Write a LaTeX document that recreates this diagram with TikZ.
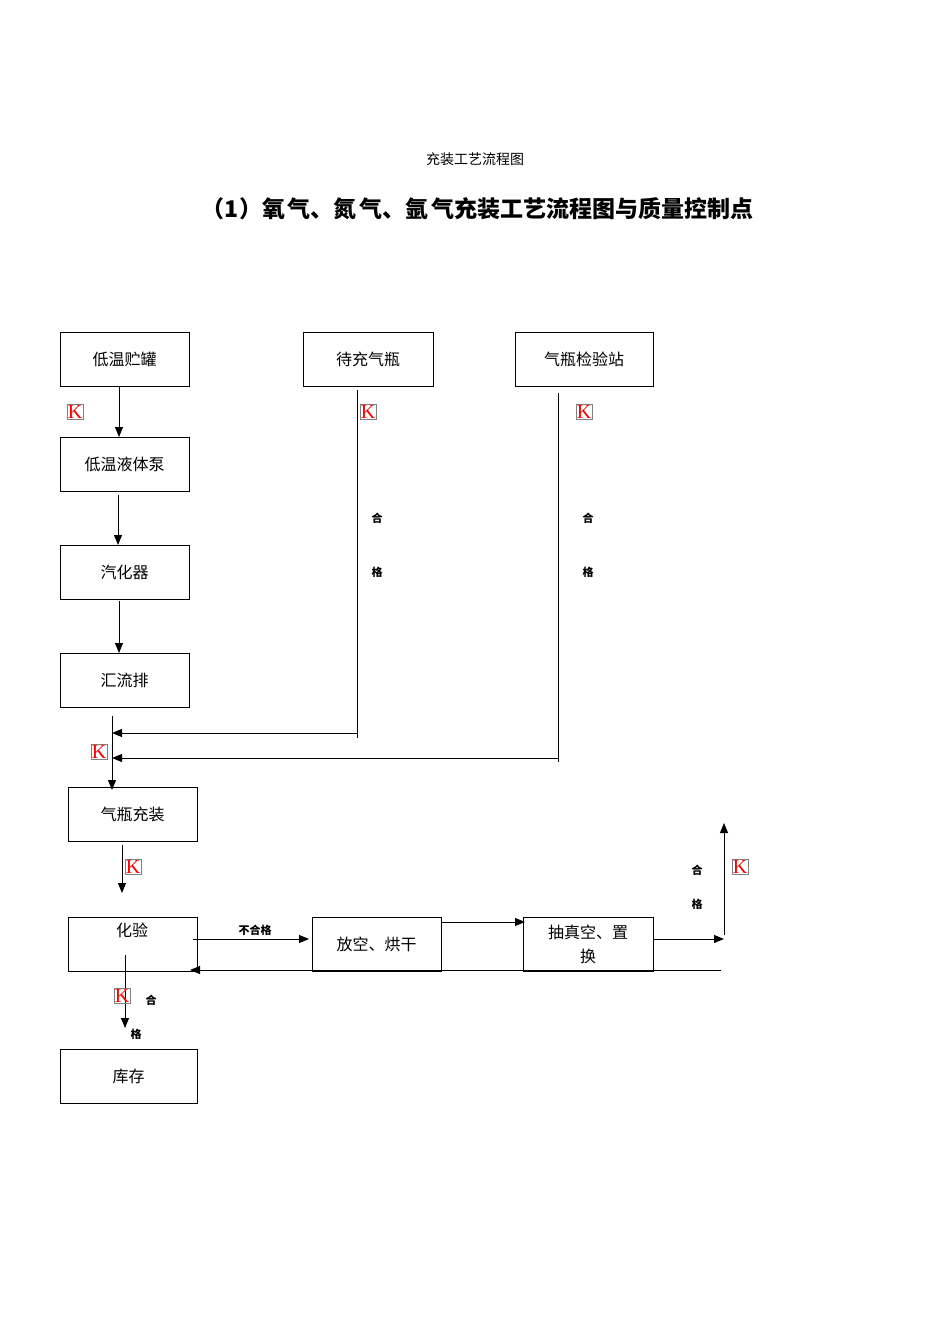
\documentclass[tikz,border=0pt]{standalone}
\usepackage{fontspec}
\setmainfont{Noto Sans CJK SC}
\newfontfamily\kfont{Liberation Serif}
\usetikzlibrary{arrows.meta}
\begin{document}
\begin{tikzpicture}[x=1pt,y=-1pt,
  arr/.style={line width=0.9pt,-{Triangle[length=10pt,width=8pt]}},
  ln/.style={line width=0.9pt},
  kmark/.style={draw=gray,line width=0.6pt,inner sep=0.8pt,text=red,font=\kfont\fontsize{20}{20}\selectfont},
  lab/.style={font=\fontsize{11}{12}\selectfont\bfseries,inner sep=0pt}]
\useasboundingbox (0,0) rectangle (950,1344);
\node[font=\fontsize{14}{16}\selectfont] (t1) at (475,159) {充装工艺流程图};
\node[font=\fontsize{23}{24}\selectfont\bfseries,inner sep=0pt] (t2) at (478,209) {（1）氧\hspace{3pt}气、氮\hspace{3pt}气、氩\hspace{3pt}气充装工艺流程图与质量控制点};
\def\bx#1#2#3#4#5#6{\draw[line width=0.8pt] (#2,#3) rectangle (#4,#5); \node[font=\fontsize{16}{18}\selectfont] (#1) at ({(#2+#4)/2},{(#3+#5)/2}) {#6};}
\bx{a}{60}{332}{189}{386}{低温贮罐}
\bx{b}{303}{332}{433}{386}{待充气瓶}
\bx{c}{515}{332}{653}{386}{气瓶检验站}
\bx{d}{60}{437}{189}{491}{低温液体泵}
\bx{e}{60}{545}{189}{599}{汽化器}
\bx{f}{60}{653}{189}{707}{汇流排}
\bx{g}{68}{787}{197}{841}{气瓶充装}
\draw[line width=0.8pt] (68,917) rectangle (197,971); \node[font=\fontsize{16}{18}\selectfont] (h) at (132,930) {化验};
\bx{i}{312}{917}{441}{971}{放空、烘干}
\draw[line width=0.8pt] (523,917) rectangle (653,971); \node[font=\fontsize{16}{24}\selectfont,align=center] (j) at (588,944) {抽真空、置\\换};
\bx{k}{60}{1049}{197}{1103}{库存}
% arrows
\draw[arr] (119,386) -- (119,437);
\draw[arr] (118,495) -- (118,545);
\draw[arr] (119,601) -- (119,653);
\draw[ln] (357,390) -- (357,738);
\draw[arr] (357,733) -- (112,733);
\draw[ln] (558,393) -- (558,762);
\draw[arr] (558,758) -- (112,758);
\draw[arr] (112,716) -- (112,790);
\draw[arr] (122,845) -- (122,893);
\draw[arr] (193,939) -- (309,939);
\draw[arr] (441,922) -- (525,922);
\draw[arr] (653,939) -- (724,939);
\draw[arr] (724,935) -- (724,823);
\draw[arr] (721,970) -- (190,970);
\draw[arr] (125,955) -- (125,1028);
% K marks
\node[kmark] (k1) at (75,412) {K};
\node[kmark] (k2) at (368,412) {K};
\node[kmark] (k3) at (584,412) {K};
\node[kmark] (k4) at (99,752) {K};
\node[kmark] (k5) at (133,867) {K};
\node[kmark] (k6) at (740,867) {K};
\node[kmark] (k7) at (122,996) {K};
% labels
\node[lab] (l1) at (377,518) {合};
\node[lab] (l2) at (377,572) {格};
\node[lab] (l3) at (588,518) {合};
\node[lab] (l4) at (588,572) {格};
\node[lab] (l5) at (697,870) {合};
\node[lab] (l6) at (697,904) {格};
\node[lab] (l7) at (151,1000) {合};
\node[lab] (l8) at (136,1034) {格};
\node[lab] (l9) at (255,930) {不合格};
\end{tikzpicture}
\end{document}
